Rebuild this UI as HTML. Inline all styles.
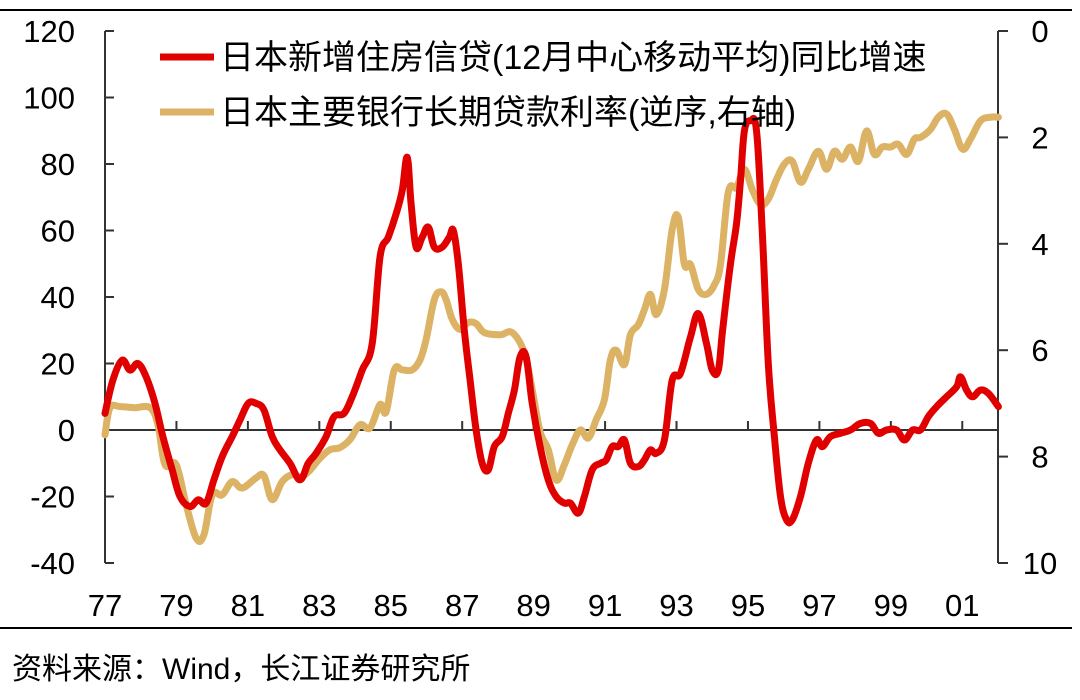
<!DOCTYPE html>
<html><head><meta charset="utf-8"><style>
body{margin:0;background:#fff;}
svg{display:block;font-family:"Liberation Sans","Noto Sans CJK SC",sans-serif;}
</style></head><body>
<svg id="chart" width="1080" height="700">
<line x1="0" y1="10" x2="1072" y2="10" stroke="#000" stroke-width="2"/>
<line x1="0" y1="628" x2="1072" y2="628" stroke="#000" stroke-width="2"/>
<text x="12" y="679" font-size="30" fill="#000">资料来源：Wind，长江证券研究所</text>
<g id="axes"></g>
<g id="series"></g>
<g>
<line x1="160" y1="57" x2="214" y2="57" stroke="#e00000" stroke-width="7"/>
<text x="220" y="69" font-size="34">日本新增住房信贷(12月中心移动平均)同比增速</text>
<line x1="160" y1="112" x2="214" y2="112" stroke="#dcb264" stroke-width="7"/>
<text x="220" y="124" font-size="34">日本主要银行长期贷款利率(逆序,右轴)</text>
</g>
</svg>
<script>
const leftTicks=[120,100,80,60,40,20,0,-20,-40];
const rightTicks=[0,2,4,6,8,10];
const xTickLabels=["77","79","81","83","85","87","89","91","93","95","97","99","01"];
const xTickYears=[77,79,81,83,85,87,89,91,93,95,97,99,101];
const redYears=[77.00,77.22,77.48,77.70,77.92,78.15,78.40,78.62,78.88,79.10,79.38,79.61,79.83,80.05,80.28,80.56,80.78,81.01,81.23,81.45,81.68,81.90,82.18,82.46,82.69,82.91,83.19,83.41,83.69,83.92,84.20,84.48,84.70,84.93,85.15,85.32,85.46,85.57,85.71,85.88,86.05,86.22,86.44,86.64,86.75,86.89,87.06,87.22,87.39,87.56,87.73,87.90,88.12,88.29,88.46,88.62,88.79,88.96,89.18,89.41,89.63,89.86,90.03,90.25,90.42,90.64,90.87,91.03,91.20,91.37,91.54,91.71,91.93,92.10,92.27,92.43,92.66,92.88,93.11,93.39,93.61,93.84,94.00,94.17,94.29,94.51,94.68,94.79,94.90,95.07,95.24,95.40,95.57,95.74,95.91,96.08,96.24,96.47,96.69,96.92,97.08,97.31,97.59,97.87,98.15,98.43,98.65,98.88,99.16,99.38,99.61,99.83,100.05,100.28,100.56,100.84,100.95,101.12,101.29,101.51,101.73,102.01];
const redValues=[5,15,21,18,20,16,8,-2,-12,-20,-23,-21,-22,-15,-8,-2,3,8,8,6,-2,-6,-10,-15,-10,-7,-2,4,5,10,18,26,52,58,65,72,82,68,55,58,61,55,55,58,60,50,30,15,0,-10,-12,-5,-2,5,12,22,22,8,-5,-15,-20,-22,-22,-25,-20,-12,-10,-9,-5,-5,-3,-10,-11,-9,-6,-7,-3,15,17,28,35,26,18,18,30,50,62,75,90,93,90,60,20,-2,-20,-27,-27,-20,-10,-3,-5,-2,-1,0,2,2,-1,0,0,-3,0,0,4,7,10,13,16,12,10,12,11,7];
const goldYears=[77.00,77.14,77.42,77.84,78.26,78.48,78.68,78.99,79.27,79.55,79.77,80.00,80.28,80.56,80.84,81.23,81.45,81.68,81.96,82.24,82.46,82.69,83.02,83.30,83.58,83.86,84.14,84.42,84.70,84.87,85.10,85.32,85.60,85.82,85.99,86.22,86.41,86.55,86.72,86.94,87.17,87.39,87.62,88.06,88.40,88.74,88.96,89.18,89.41,89.63,89.86,90.08,90.31,90.53,90.75,90.98,91.15,91.31,91.54,91.71,91.93,92.10,92.27,92.43,92.66,92.88,93.05,93.22,93.39,93.61,93.84,94.06,94.23,94.45,94.68,94.90,95.12,95.35,95.57,95.80,96.02,96.24,96.47,96.69,96.97,97.20,97.42,97.64,97.87,98.09,98.32,98.54,98.76,98.99,99.21,99.44,99.66,99.83,100.11,100.33,100.56,100.78,101.01,101.23,101.51,101.79,102.01];
const goldValues=[7.59,7.08,7.06,7.08,7.08,7.4,8.15,8.15,8.9,9.53,9.47,8.72,8.72,8.47,8.59,8.4,8.36,8.81,8.47,8.34,8.38,8.29,8.03,7.87,7.83,7.68,7.4,7.46,7.02,7.16,6.37,6.37,6.37,6.18,5.8,5.05,4.9,5.05,5.42,5.61,5.48,5.5,5.67,5.71,5.67,6.05,6.74,7.53,7.87,8.44,8.15,7.78,7.5,7.65,7.31,6.93,6.18,6.0,6.27,5.71,5.52,5.24,4.95,5.33,4.86,3.73,3.5,4.39,4.39,4.86,4.95,4.77,4.39,3.03,2.94,2.6,2.98,3.26,3.16,2.79,2.5,2.45,2.84,2.6,2.26,2.6,2.26,2.41,2.18,2.45,1.88,2.32,2.18,2.18,2.13,2.32,2.03,2.0,1.85,1.62,1.56,1.85,2.22,2.03,1.69,1.62,1.62];

const NS="http://www.w3.org/2000/svg";
const X0=105,X1=998,Y0=31,Y1=563;
const xs=y=>X0+(y-77)*35.72;
const yl=v=>Y0+(120-v)/160*(Y1-Y0);
const yr=v=>Y0+v/10*(Y1-Y0);
function mk(tag,attrs,parent){const e=document.createElementNS(NS,tag);for(const k in attrs)e.setAttribute(k,attrs[k]);parent.appendChild(e);return e;}
const axes=document.getElementById('axes'),ser=document.getElementById('series');
let e;
e=mk('line',{x1:X0,y1:Y0,x2:X0,y2:Y1,stroke:'#333','stroke-width':2},axes);


e=mk('line',{x1:X1,y1:Y0,x2:X1,y2:Y1,stroke:'#333','stroke-width':2},axes);


e=mk('line',{x1:X0,y1:yl(0),x2:X1,y2:yl(0),stroke:'#333','stroke-width':2},axes);


leftTicks.forEach(v=>{
 const y=yl(v);
 e=mk('line',{x1:X0,y1:y,x2:X0+9,y2:y,stroke:'#333','stroke-width':2},axes);
 
 
 e=mk('text',{x:X0-30,y:y+11,'font-size':31,'text-anchor':'end'},axes);e.textContent=v;
 
 
});
rightTicks.forEach(v=>{
 const y=yr(v);
 e=mk('line',{x1:X1,y1:y,x2:X1+10,y2:y,stroke:'#333','stroke-width':2},axes);
 
 
 e=mk('text',{x:1040,y:y+11,'font-size':31,'text-anchor':'middle'},axes);e.textContent=v;
 
 
});
xTickYears.forEach((yy,i)=>{
 const x=xs(yy);
 if(i>0){e=mk('line',{x1:x,y1:yl(0),x2:x,y2:yl(0)-9,stroke:'#333','stroke-width':2},axes);
 
 }
 e=mk('text',{x:x,y:616,'font-size':31,'text-anchor':'middle'},axes);e.textContent=xTickLabels[i];
 
 
});
function path(xsA,vals,fy){
 const p=vals.map((v,i)=>[xs(xsA[i]),fy(v)]);
 let d='M'+p[0][0].toFixed(1)+','+p[0][1].toFixed(1);
 for(let i=0;i<p.length-1;i++){
  const a=p[Math.max(0,i-1)],b=p[i],c=p[i+1],n=p[Math.min(p.length-1,i+2)],t=0.18;
  const c1=[b[0]+(c[0]-a[0])*t,b[1]+(c[1]-a[1])*t],c2=[c[0]-(n[0]-b[0])*t,c[1]-(n[1]-b[1])*t];
  d+='C'+c1.map(z=>z.toFixed(1)).join(',')+' '+c2.map(z=>z.toFixed(1)).join(',')+' '+c[0].toFixed(1)+','+c[1].toFixed(1);
 }
 return d;
}
e=mk('path',{d:path(goldYears,goldValues,yr),fill:'none',stroke:'#dcb264','stroke-width':7,'stroke-linejoin':'round','stroke-linecap':'round'},ser);


e=mk('path',{d:path(redYears,redValues,yl),fill:'none',stroke:'#e00000','stroke-width':7,'stroke-linejoin':'round','stroke-linecap':'round'},ser);


</script>
</body></html>
